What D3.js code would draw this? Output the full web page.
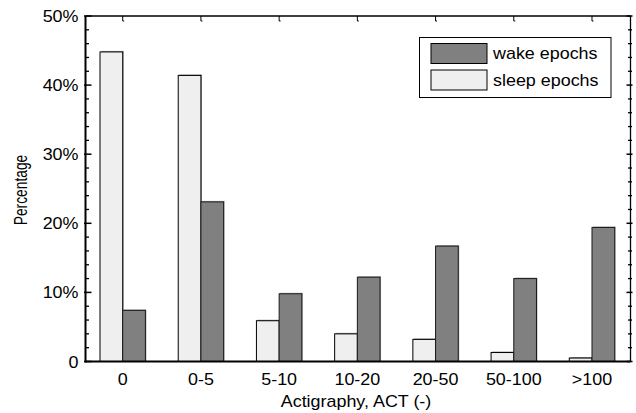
<!DOCTYPE html>
<html><head><meta charset="utf-8">
<script src="https://cdn.jsdelivr.net/npm/d3@7"></script>
<style>body{margin:0;background:#fff}svg{display:block}text{font-family:"Liberation Sans",Arial,sans-serif;fill:#000}</style>
</head><body><svg id="c" width="636" height="413"></svg>
<script>
const categories = ["0","0-5","5-10","10-20","20-50","50-100",">100"];
const sleepValues = [44.8, 41.4, 5.9, 4.0, 3.2, 1.3, 0.5];
const wakeValues = [7.4, 23.1, 9.8, 12.2, 16.7, 12.0, 19.4];
const yTickValues = [0,10,20,30,40,50];
const yTickLabels = ["0","10%","20%","30%","40%","50%"];
const seriesNames = ["wake epochs","sleep epochs"];
const xTitle = "Actigraphy, ACT (-)";
const yTitle = "Percentage";

const svg = d3.select("#c");
const L=85.5, R=630.5, T=16, B=361.5;
const x = d3.scaleBand().domain(categories).range([83.6,631.1]).paddingInner(0);
const y = d3.scaleLinear().domain([0,50]).range([B,T]);
const bw = 22.7;
const SX = 1.12;

// bars
const g = svg.append("g");
categories.forEach((c,i)=>{
  const cx = x(c)+x.bandwidth()/2;
  // sleep
  g.append("rect").attr("x",cx-bw+1).attr("y",y(sleepValues[i])-1).attr("width",bw).attr("height",B-y(sleepValues[i])+1).attr("fill","#9a9a9a");
  g.append("rect").attr("x",cx-bw).attr("y",y(sleepValues[i])).attr("width",bw).attr("height",B-y(sleepValues[i])).attr("fill","#efefef").attr("stroke","#000").attr("stroke-width",1);
  g.append("rect").attr("x",cx+1).attr("y",y(wakeValues[i])-1).attr("width",bw).attr("height",B-y(wakeValues[i])+1).attr("fill","#aaaaaa");
  g.append("rect").attr("x",cx).attr("y",y(wakeValues[i])).attr("width",bw).attr("height",B-y(wakeValues[i])).attr("fill","#808080").attr("stroke","#1a1a1a").attr("stroke-width",1);
});

// frame
svg.append("line").attr("x1",L).attr("x2",R).attr("y1",T).attr("y2",T).attr("stroke","#000").attr("stroke-width",1.3);
svg.append("line").attr("x1",R).attr("x2",R).attr("y1",T).attr("y2",B).attr("stroke","#000").attr("stroke-width",1.3);
svg.append("line").attr("x1",L).attr("x2",L).attr("y1",T).attr("y2",B+1).attr("stroke","#000").attr("stroke-width",2);
svg.append("line").attr("x1",L).attr("x2",R).attr("y1",B).attr("y2",B).attr("stroke","#000").attr("stroke-width",2);

// y ticks (left and right)
const minor = d3.range(0,51,2);
minor.forEach(v=>{
  const yy=y(v), major = v%10===0;
  if(major){
    svg.append("line").attr("x1",L-1.5).attr("x2",L+6).attr("y1",yy).attr("y2",yy).attr("stroke","#000").attr("stroke-width",1.5);
    svg.append("line").attr("x1",R-4).attr("x2",R+2).attr("y1",yy).attr("y2",yy).attr("stroke","#000").attr("stroke-width",1.5);
  } else {
    svg.append("line").attr("x1",L).attr("x2",L+3.5).attr("y1",yy).attr("y2",yy).attr("stroke","#000").attr("stroke-width",1.3);
    svg.append("line").attr("x1",R-2.5).attr("x2",R+1.5).attr("y1",yy).attr("y2",yy).attr("stroke","#000").attr("stroke-width",1.3);
  }
});
yTickValues.forEach((v,i)=>{
  svg.append("text").attr("transform",`translate(78.5,${y(v)+6}) scale(${SX},1)`).attr("text-anchor","end").attr("font-size",16).text(yTickLabels[i]);
});
// top ticks
categories.forEach(c=>{
  const cx = x(c)+x.bandwidth()/2;
  svg.append("path").attr("d",`M${cx},${T}V${T+5}h1.5`).attr("fill","none").attr("stroke","#000").attr("stroke-width",1);
});
// x tick labels
categories.forEach(c=>{
  const cx = x(c)+x.bandwidth()/2;
  svg.append("text").attr("transform",`translate(${cx},${385}) scale(${SX},1)`).attr("text-anchor","middle").attr("font-size",16).text(c);
});
// titles
svg.append("text").attr("transform",`translate(356,407) scale(${SX},1)`).attr("text-anchor","middle").attr("font-size",16).text(xTitle);
svg.append("text").attr("transform",`translate(26.5,190) rotate(-90) scale(1,1.3)`).attr("text-anchor","middle").attr("font-size",13.8).text(yTitle);

// legend
const lg = svg.append("g");
lg.append("rect").attr("x",419.5).attr("y",37.5).attr("width",191.5).attr("height",60).attr("fill","#fff").attr("stroke","#000").attr("stroke-width",1);
const fills = ["#808080","#efefef"];
seriesNames.forEach((n,i)=>{
  const yy = 43.5 + i*26.5;
  lg.append("rect").attr("x",431).attr("y",yy).attr("width",56).attr("height",20).attr("fill",fills[i]).attr("stroke","#000").attr("stroke-width",1);
  lg.append("text").attr("transform",`translate(493,${yy+15.5}) scale(${SX},1)`).attr("font-size",16).text(n);
});
</script></body></html>
